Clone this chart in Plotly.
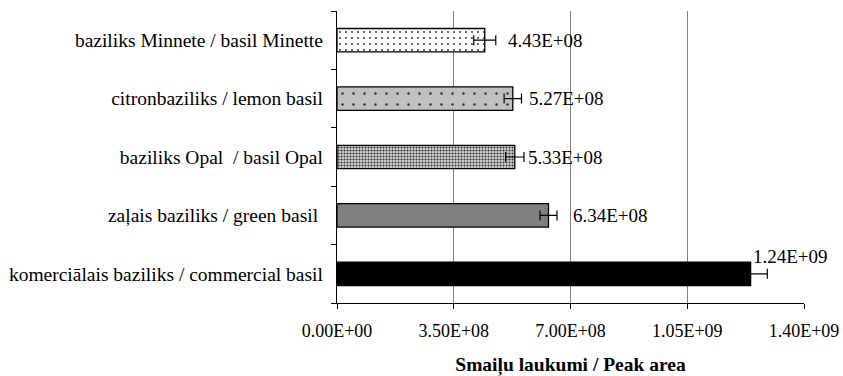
import plotly.graph_objects as go

# Basil varieties, listed bottom to top as they appear on the axis
categories = [
    "komerciālais baziliks / commercial basil",
    "zaļais baziliks / green basil ",
    "baziliks Opal  / basil Opal",
    "citronbaziliks / lemon basil",
    "baziliks Minnete / basil Minette",
]
peak_area = [1.24e9, 6.34e8, 5.33e8, 5.27e8, 4.43e8]
peak_err = [5.0e7, 2.55e7, 2.75e7, 2.6e7, 3.3e7]

x_tickvals = [0, 3.5e8, 7.0e8, 1.05e9, 1.4e9]
x_ticktext = ["0.00E+00", "3.50E+08", "7.00E+08", "1.05E+09", "1.40E+09"]

FONT = "'Liberation Serif', 'Times New Roman', 'DejaVu Serif', serif"

# per-bar fill styles (bottom to top)
fills = [
    dict(color="black", pattern=dict(shape="")),
    dict(color="#808080", pattern=dict(shape="")),
    dict(color="white", pattern=dict(shape=".", fgcolor="#333333", bgcolor="#d4d4d4",
                                     size=3, solidity=0.4, fillmode="replace")),
    dict(color="#c0c0c0", pattern=dict(shape=".", fgcolor="#333333", bgcolor="#c0c0c0",
                                       size=11, solidity=0.04, fillmode="replace")),
    dict(color="white", pattern=dict(shape=".", fgcolor="#333333", bgcolor="white",
                                     size=6, solidity=0.08, fillmode="replace")),
]

fig = go.Figure()
for cat, v, e, f in zip(categories, peak_area, peak_err, fills):
    fig.add_trace(go.Bar(
        y=[cat], x=[v], orientation="h", width=0.4,
        marker=dict(color=f["color"], pattern=f["pattern"],
                    line=dict(color="black", width=1.3)),
        error_x=dict(type="data", array=[e], color="black", thickness=1.2, width=5),
        showlegend=False,
    ))

# value labels next to each bar
label_shift = [0, 23, 11, 14, 21]
label_yshift = [17, 0, 0, 0, 0]
for cat, v, dx, dy in zip(categories, peak_area, label_shift, label_yshift):
    fig.add_annotation(
        x=v, y=cat, text=f"{v:.2E}", showarrow=False,
        xanchor="left", yanchor="middle", xshift=dx, yshift=dy,
        font=dict(family=FONT, size=19, color="black"),
    )

fig.update_layout(
    width=843, height=376,
    margin=dict(l=337, r=39, t=11, b=73),
    paper_bgcolor="white", plot_bgcolor="white",
    font=dict(family=FONT, size=18, color="black"),
    bargap=0.6,
)
fig.update_xaxes(
    range=[0, 1.4e9], tickvals=x_tickvals, ticktext=x_ticktext,
    automargin=False,
    showgrid=True, gridcolor="#808080", gridwidth=1,
    showline=True, linecolor="black", linewidth=1.3,
    ticks="outside", ticklen=5, tickcolor="black", tickwidth=1.3,
    ticklabelstandoff=6,
    tickfont=dict(family=FONT, size=18),
    title=dict(text="<b>Smaiļu laukumi / Peak area</b>", standoff=18,
               font=dict(family=FONT, size=19.5)),
    zeroline=False,
)
fig.update_yaxes(
    categoryorder="array", categoryarray=categories,
    range=[-0.5, 4.5], automargin=False,
    showline=True, linecolor="black", linewidth=1.3,
    ticks="outside", ticklen=5, tickcolor="black", tickwidth=1.3,
    tickson="boundaries", ticklabelstandoff=9,
    tickfont=dict(family=FONT, size=19.5),
    showgrid=False,
)

fig.write_html("out.html")
